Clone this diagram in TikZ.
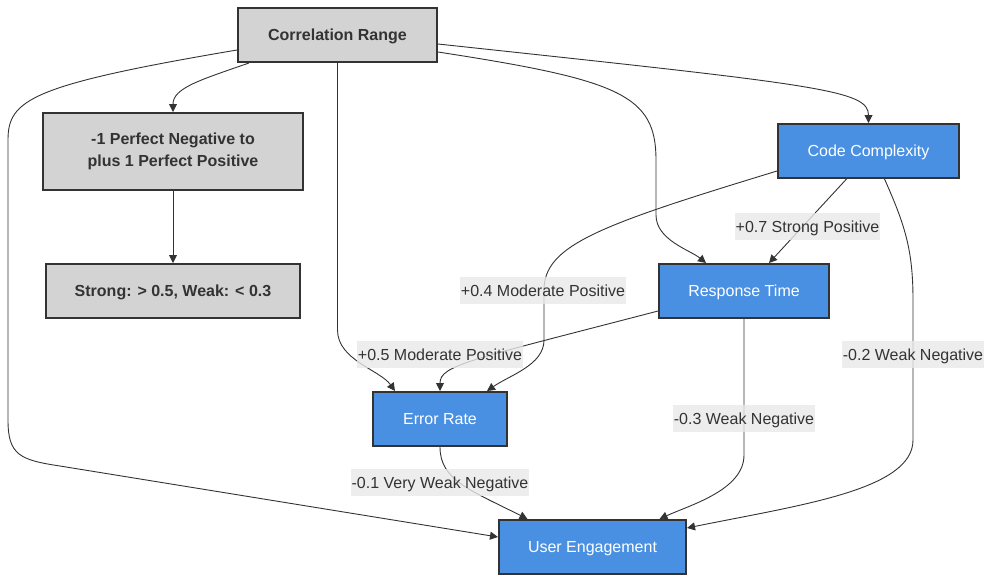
\documentclass[tikz,border=0pt]{standalone}
\usepackage{fontspec}
\setmainfont{Liberation Sans}
\usetikzlibrary{arrows.meta}
\definecolor{edgegray}{HTML}{333333}
\definecolor{boxgray}{HTML}{D3D3D3}
\definecolor{boxblue}{HTML}{4A90E2}
\definecolor{lblgray}{HTML}{E8E8E8}

\begin{document}
\begin{tikzpicture}[x=1pt,y=1pt]
\tikzstyle{every node}+=[font=\fontsize{16}{19}\selectfont]
\tikzstyle{graybox}=[draw=edgegray, line width=2pt, fill=boxgray, text=edgegray, font=\fontsize{16}{22}\selectfont\bfseries, align=center, minimum height=54pt]
\tikzstyle{bluebox}=[draw=edgegray, line width=2pt, fill=boxblue, text=white, minimum height=54pt, text height=11.6pt, text depth=0pt]
\tikzstyle{lbl}=[fill=lblgray, fill opacity=0.8, text opacity=1, text=edgegray, inner xsep=1pt, inner ysep=7.5pt, text height=11.6pt, text depth=0pt]
\tikzstyle{link}=[draw=edgegray, line width=0.9pt, -{Triangle[length=8pt,width=8pt]}]
\useasboundingbox (0,0) rectangle (992,-582);
% nodes
\node [graybox, minimum width=199pt, text height=11.6pt, text depth=0pt] (range) at (337.5,-35) {Correlation Range};
\node [graybox, minimum width=260pt, minimum height=77pt] (perf) at (173,-151.5) {-1 Perfect Negative to\\plus 1 Perfect Positive};
\node [graybox, minimum width=254pt, text height=11.6pt, text depth=0pt] (strong) at (173,-291) {Strong: > 0.5, Weak: < 0.3};
\node [bluebox, minimum width=181pt] (code) at (868.5,-151) {Code Complexity};
\node [bluebox, minimum width=170pt] (resp) at (744,-291) {Response Time};
\node [bluebox, minimum width=134pt] (err) at (440,-419) {Error Rate};
\node [bluebox, minimum width=187pt] (user) at (592.5,-547) {User Engagement};
% edges from the range box
\draw [link] ([xshift=12pt]range.south west) .. controls (200,-80) and (173,-88) .. (perf.north);
\draw [link] (perf.south) -- (strong.north);
\draw [link] ([yshift=-15pt]range.west) .. controls (30,-85) and (8,-100) .. (8,-140) -- (8,-420)
  .. controls (8,-455) and (20,-460) .. (60,-466) -- ([yshift=10pt]user.west);
\draw [link] (range.south) -- (337.5,-330) .. controls (337.5,-360) and (380,-370) .. ([xshift=-45pt]err.north);
\draw [link] ([yshift=-17pt]range.east) .. controls (620,-80) and (656,-95) .. (656,-160) -- (656,-215)
  .. controls (656,-240) and (690,-250) .. ([xshift=-38pt]resp.north);
\draw [link] ([yshift=-9pt]range.east) .. controls (820,-85) and (868.5,-90) .. (code.north);
% edges between the metrics
\draw [link] ([xshift=-22pt]code.south) -- ([xshift=25pt]resp.north);
\draw [link] ([yshift=-20pt]code.west) .. controls (600,-225) and (544,-245) .. (544,-290) -- (544,-340)
  .. controls (544,-365) and (510,-375) .. ([xshift=47pt]err.north);
\draw [link] ([yshift=-20pt]resp.west) .. controls (470,-360) and (440,-365) .. (err.north);
\draw [link] (resp.south) -- (744,-455) .. controls (744,-490) and (690,-505) .. ([xshift=67pt]user.north);
\draw [link] ([xshift=16pt]code.south) .. controls (905,-225) and (913,-250) .. (913,-300) -- (913,-440)
  .. controls (913,-490) and (800,-505) .. ([yshift=19pt]user.east);
\draw [link] (err.south) .. controls (440,-480) and (470,-490) .. ([xshift=-65pt]user.north);
% labels
\node [lbl] (strongpos) at (807.5,-226.5) {+0.7 Strong Positive};
\node [lbl] (modpos) at (543,-290.5) {+0.4 Moderate Positive};
\node [lbl] (modposb) at (440,-354.5) {+0.5 Moderate Positive};
\node [lbl] (weakneg) at (744,-418.5) {-0.3 Weak Negative};
\node [lbl] (weaknegb) at (913,-354.5) {-0.2 Weak Negative};
\node [lbl] (vweakneg) at (440,-482.5) {-0.1 Very Weak Negative};
\end{tikzpicture}
\end{document}
